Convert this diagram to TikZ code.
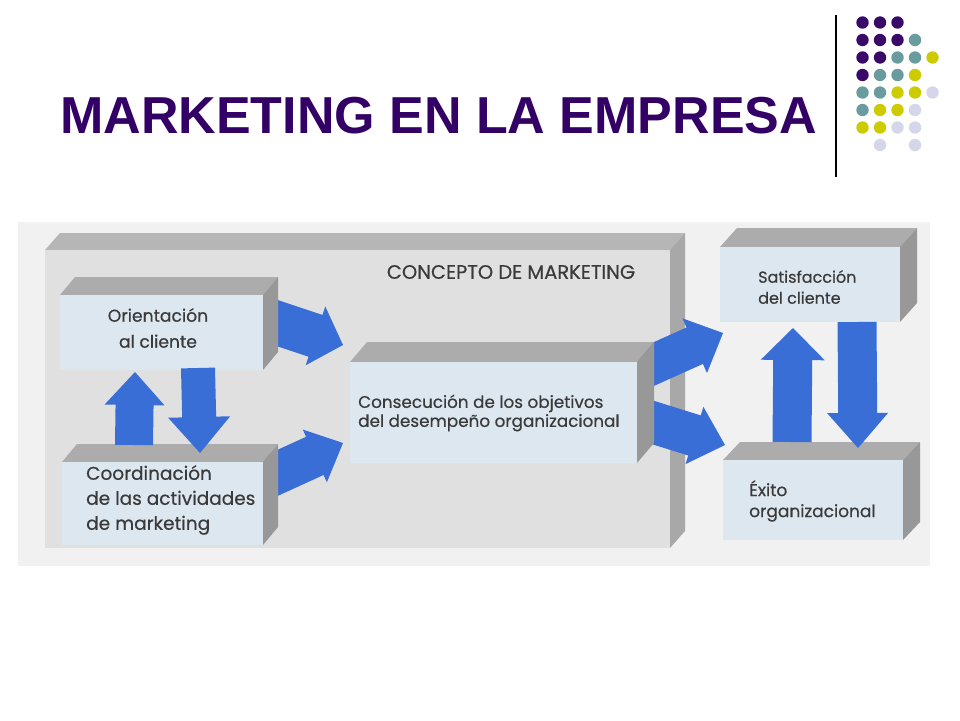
\documentclass[tikz,border=0pt]{standalone}
\usepackage{fontspec}
\setmainfont{Liberation Sans}
\newfontfamily\diagfont{Poppins}[FakeBold=0.5]
\usetikzlibrary{calc}

\definecolor{titlepurple}{RGB}{51,0,102}
\definecolor{dotpurple}{RGB}{58,10,105}
\definecolor{dotteal}{RGB}{104,156,158}
\definecolor{dotyellow}{RGB}{204,204,0}
\definecolor{dotlav}{RGB}{214,214,234}
\definecolor{scanbg}{RGB}{241,241,241}
\definecolor{bigfront}{RGB}{224,224,224}
\definecolor{bigtop}{RGB}{182,182,182}
\definecolor{bigside}{RGB}{168,168,168}
\definecolor{boxfront}{RGB}{221,231,240}
\definecolor{boxtop}{RGB}{172,172,172}
\definecolor{boxside}{RGB}{152,152,152}
\definecolor{arrowblue}{RGB}{58,110,215}
\definecolor{labelgray}{RGB}{58,58,58}

% 3D slab: name, x1, y1, x2, y2 (front face), dx, dy (depth), colour prefix
\newcommand{\slab}[8]{%
  \fill[#8top] (#2,#3) -- ({#2+#6},{#3+#7}) -- ({#4+#6},{#3+#7}) -- (#4,#3) -- cycle;
  \fill[#8side] (#4,#3) -- ({#4+#6},{#3+#7}) -- ({#4+#6},{#5+#7}) -- (#4,#5) -- cycle;
  \node[front, fill=#8front, minimum width={(#4-#2)*1pt}, minimum height={(#5-#3)*1pt}]
    (#1) at ({(#2+#4)/2},{(#3+#5)/2}) {};
}

% block arrow: start, tip, shaft half width, head half width, head length
\newcommand{\blockarrow}[5]{%
  \coordinate (ba-h) at ($(#2)!#5!(#1)$);
  \fill[arrowblue] ($(#1)!#3!90:(#2)$) -- ($(ba-h)!#3!-90:(#1)$) -- ($(ba-h)!#4!-90:(#1)$)
    -- (#2) -- ($(ba-h)!#4!90:(#1)$) -- ($(ba-h)!#3!90:(#1)$) -- ($(#1)!#3!-90:(#2)$) -- cycle;
}

\begin{document}
\begin{tikzpicture}[x=1pt,y=-1pt,
  front/.style={draw=none, inner sep=0pt, rectangle},
  lbl/.style={font=\diagfont\fontsize{16.8}{19}\selectfont, text=labelgray, inner sep=0pt}]
\useasboundingbox (0,0) rectangle (960,720);
\fill[white] (0,0) rectangle (960,720);

% title
\node[anchor=base west, inner sep=0pt, text=titlepurple,
  font=\fontsize{52}{60}\selectfont\bfseries] (title) at (60,133) {MARKETING EN LA EMPRESA};

% vertical rule
\draw[line width=1.4pt] (836,15) -- (836,177);

% dots
\foreach \x/\y/\c in {
  862.5/22.5/dotpurple, 880/22.5/dotpurple, 897.5/22.5/dotpurple,
  862.5/40/dotpurple, 880/40/dotpurple, 897.5/40/dotpurple, 915/40/dotteal,
  862.5/57.5/dotpurple, 880/57.5/dotpurple, 897.5/57.5/dotteal, 915/57.5/dotteal, 932.5/57.5/dotyellow,
  862.5/75/dotpurple, 880/75/dotteal, 897.5/75/dotteal, 915/75/dotyellow,
  862.5/92.5/dotteal, 880/92.5/dotteal, 897.5/92.5/dotyellow, 915/92.5/dotyellow, 932.5/92.5/dotlav,
  862.5/110/dotteal, 880/110/dotyellow, 897.5/110/dotyellow, 915/110/dotlav,
  862.5/127.5/dotyellow, 880/127.5/dotyellow, 897.5/127.5/dotlav, 915/127.5/dotlav,
  880/145/dotlav, 915/145/dotlav}
  \fill[\c] (\x,\y) circle[radius=6.2];

% scanned diagram background
\fill[scanbg] (18,222) rectangle (930,566);

% big box
\slab{concept}{45}{250}{670}{548}{15}{-17}{big}

% arrows into / out of the central box (tails hidden behind boxes)
\coordinate (a1s) at (262,318);  \coordinate (a1t) at (343,345);
\coordinate (a2s) at (262,480);  \coordinate (a2t) at (343,443);
\coordinate (a5s) at (645,368);  \coordinate (a5t) at (723,333);
\coordinate (a6s) at (645,420);  \coordinate (a6t) at (725,445);
\blockarrow{a1s}{a1t}{22pt}{31pt}{29pt}
\blockarrow{a2s}{a2t}{21pt}{29pt}{31pt}
\blockarrow{a5s}{a5t}{20pt}{30pt}{31pt}
\blockarrow{a6s}{a6t}{21pt}{30pt}{32pt}

% small boxes
\slab{orient}{60}{295}{263}{370}{15}{-18}{box}
\slab{coord}{62}{462}{263}{545}{15}{-18}{box}
\slab{goal}{350}{362}{637}{463}{17}{-20}{box}
\slab{satis}{720}{247}{900}{322}{17}{-19}{box}
\slab{exito}{723}{460}{903}{540}{17}{-18}{box}

% vertical arrows
\coordinate (a3s) at (134,445);  \coordinate (a3t) at (135,372);
\coordinate (a4s) at (198,368);  \coordinate (a4t) at (200,453);
\coordinate (a7s) at (792,442);  \coordinate (a7t) at (793,328);
\coordinate (a8s) at (857,322);  \coordinate (a8t) at (858,448);
\blockarrow{a3s}{a3t}{19pt}{30pt}{33pt}
\blockarrow{a4s}{a4t}{17pt}{31pt}{36pt}
\blockarrow{a7s}{a7t}{19.5pt}{32pt}{32pt}
\blockarrow{a8s}{a8t}{19.5pt}{30.5pt}{35pt}

% labels
\node[lbl, font=\diagfont\fontsize{19.5}{22}\selectfont] (conceptlbl) at (511,272) {CONCEPTO DE MARKETING};
\node[lbl, align=center, font=\diagfont\fontsize{17.2}{26}\selectfont] (orientlbl) at (158,328) {Orientación\\al cliente};
\node[lbl, align=left, anchor=west] (goallbl) at (358,413) {Consecución de los objetivos\\del desempeño organizacional};
\node[lbl, align=left, anchor=west, font=\diagfont\fontsize{18.5}{25}\selectfont] (coordlbl) at (86,500) {Coordinación\\de las actividades\\de marketing};
\node[lbl, align=left, anchor=west, font=\diagfont\fontsize{16}{21}\selectfont] (satislbl) at (758,287) {Satisfacción\\del cliente};
\node[lbl, align=left, anchor=west, font=\diagfont\fontsize{17}{21}\selectfont] (exitolbl) at (749,501) {Éxito\\organizacional};
\end{tikzpicture}
\end{document}
